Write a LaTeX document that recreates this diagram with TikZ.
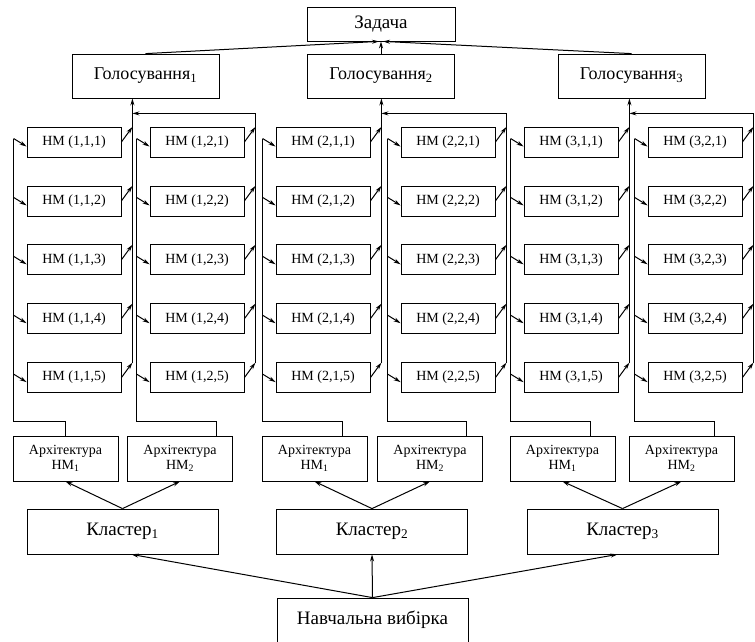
\documentclass[tikz,border=0pt]{standalone}
\usepackage{fontspec}
\setmainfont{Liberation Serif}
\usetikzlibrary{calc,arrows.meta}
\tikzstyle{every node}=[inner sep=0pt,line width=0.8pt]
\tikzstyle{hm}=[draw,minimum width=94pt,minimum height=30pt,font=\fontsize{14}{16}\selectfont]
\tikzstyle{arch}=[draw,minimum width=105pt,minimum height=45pt,align=center,font=\fontsize{14}{15.5}\selectfont]
\tikzstyle{big}=[draw,minimum height=45pt,font=\fontsize{19}{22}\selectfont]

\begin{document}
\begin{tikzpicture}[x=1pt,y=-1pt,->,>={Stealth[length=7pt,width=4pt]},line width=1pt]
	\useasboundingbox (0,0) rectangle (755,641);
	\node[big,minimum width=148pt,minimum height=34pt] (task) at (381,24) {Задача};
	\foreach \c/\x in {1/145.5,2/381,3/631.5}{
		\node[big,minimum width=147pt,minimum height=44pt,font=\fontsize{18}{21}\selectfont] (v\c) at (\x,76) {Голосування\textsubscript{\c}};
		\coordinate (t\c) at ($(v\c.south)+(0,15)$);
	}
	\foreach \c/\x in {1/122.5,2/372,3/622.5}
		\node[big,minimum width=191pt] (k\c) at (\x,531.5) {Кластер\textsubscript{\c}};
	\node[big,minimum width=191pt,minimum height=48pt,text height=15pt,text depth=11pt] (train) at (372.5,622) {Навчальна вибірка};
	\foreach \c/\a/\x/\ax/\dx in {1/1/74/65.5/53, 1/2/197/180/89, 2/1/323/314.5/81, 2/2/448/430/89, 3/1/571/562.5/81, 3/2/695/681.5/86}{
		\node[arch] (a\c\a) at (\ax,458.5) {Архітектура\\НМ\textsubscript{\a}};
		\foreach \k in {1,...,5}{
			\node[hm] (n\c\a\k) at (\x,{142+58.9*(\k-1)}) {НМ (\c,\a,\k)};
			\coordinate (i\c\a\k) at ($(n\c\a\k.west)+(-13,-3.5)$);
			\coordinate (o\c\a\k) at ($(n\c\a\k.east)+(11,-15)$);
			\draw (i\c\a\k) -- ($(n\c\a\k.west)+(0,4.5)$);
			\draw (n\c\a\k.east) -- (o\c\a\k);
		}
		\coordinate (b\c\a) at ($(a\c\a.north west)+(\dx,0)$);
		\draw[-] (i\c\a1) |- ($(b\c\a)+(0,-14)$) -- (b\c\a);
		\draw[-] (o\c\a5) -- (o\c\a1);
		\draw (k\c.north) -- (a\c\a.south);
	}
	\foreach \c in {1,2,3}{
		\draw (o\c11) -- (o\c11 |- v\c.south);
		\draw (o\c25) |- (o\c11 |- t\c);
	}
	\draw (v1.north) -- ([xshift=-2pt]task.south);
	\draw (v2.north) -- (task.south);
	\draw (v3.north) -- ([xshift=2pt]task.south);
	\draw (train.north) -- ([xshift=9pt]k1.south);
	\draw (train.north) -- (k2.south);
	\draw (train.north) -- ([xshift=-5pt]k3.south);
\end{tikzpicture}
\end{document}
